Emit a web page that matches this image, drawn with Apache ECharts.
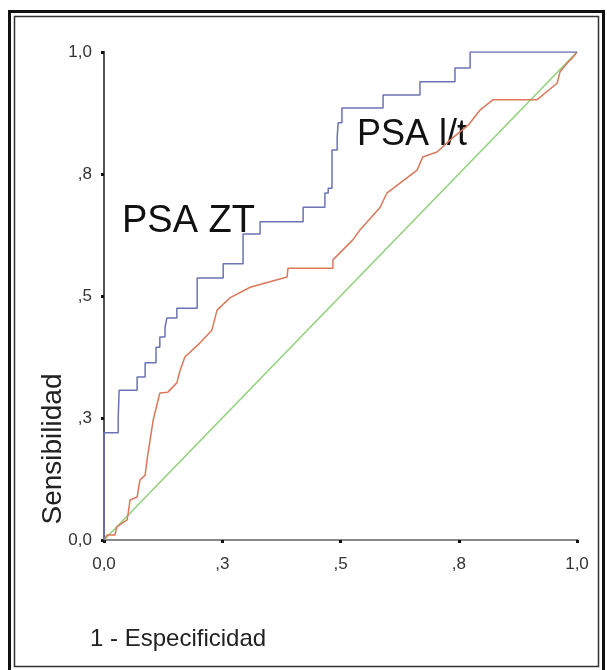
<!DOCTYPE html>
<html>
<head>
<meta charset="utf-8">
<script src="https://cdn.jsdelivr.net/npm/echarts@6/dist/echarts.min.js"></script>
<style>
  html, body { margin: 0; padding: 0; background: #fff; }
  #main { width: 607px; height: 670px; }
</style>
</head>
<body>
<div id="main"></div>
<script>
// tick values and the SPSS-style labels shown on both axes
const tickValues = [0, 0.25, 0.5, 0.75, 1];
const tickLabels = ['0,0', ',3', ',5', ',8', '1,0'];

// PSA ZT curve, [1 - especificidad, sensibilidad], drawn as stairs
const psaZT = [
  [0, 0], [0, 0.22], [0.03, 0.25], [0.032, 0.307], [0.07, 0.334], [0.087, 0.363],
  [0.11, 0.395], [0.118, 0.416], [0.129, 0.436], [0.133, 0.455], [0.154, 0.475],
  [0.197, 0.537], [0.252, 0.566], [0.294, 0.627], [0.33, 0.652], [0.421, 0.682],
  [0.467, 0.711], [0.474, 0.721], [0.482, 0.799], [0.493, 0.826], [0.495, 0.855],
  [0.503, 0.885], [0.59, 0.912], [0.668, 0.939], [0.742, 0.967], [0.774, 1.0], [1, 1]
];

// PSA l/t curve
const psaLT = [
  [0, 0], [0.006, 0.010], [0.023, 0.010], [0.027, 0.027], [0.049, 0.041], [0.055, 0.082],
  [0.070, 0.088], [0.076, 0.123], [0.087, 0.133], [0.091, 0.164], [0.104, 0.246],
  [0.118, 0.301], [0.135, 0.303], [0.154, 0.322], [0.161, 0.348], [0.171, 0.375],
  [0.203, 0.404], [0.228, 0.430], [0.239, 0.471], [0.266, 0.496], [0.309, 0.518],
  [0.387, 0.539], [0.389, 0.557], [0.484, 0.557], [0.484, 0.574], [0.526, 0.615],
  [0.541, 0.635], [0.584, 0.682], [0.598, 0.711], [0.662, 0.758], [0.674, 0.785],
  [0.704, 0.795], [0.732, 0.820], [0.770, 0.850], [0.795, 0.881], [0.822, 0.902],
  [0.915, 0.902], [0.958, 0.936], [0.964, 0.959], [0.979, 0.977], [0.992, 0.990], [1, 1]
];

// reference line
const diagonal = [[0, 0], [1, 1]];

const font = '"Liberation Sans", Arial, sans-serif';

function tickLabel(v) {
  const i = tickValues.findIndex(t => Math.abs(t - v) < 1e-6);
  return i >= 0 ? tickLabels[i] : '';
}

const chart = echarts.init(document.getElementById('main'));

const option = {
  animation: false,
  backgroundColor: '#fff',
  grid: { left: 104, right: 30, top: 52, bottom: 130 },
  xAxis: [{
    type: 'value', min: 0, max: 1, interval: 0.25,
    axisLine: { lineStyle: { color: '#222', width: 2 } },
    axisTick: { show: true, length: 3, lineStyle: { color: '#111', width: 3 } },
    axisLabel: { margin: 16, color: '#333', fontSize: 17, fontFamily: font, formatter: tickLabel },
    splitLine: { show: false }
  }, {
    type: 'value', min: 0, max: 1, position: 'top',
    axisLine: { show: true, lineStyle: { color: '#888', width: 2 } },
    axisTick: { show: false }, axisLabel: { show: false }, splitLine: { show: false }
  }],
  yAxis: [{
    type: 'value', min: 0, max: 1, interval: 0.25,
    axisLine: { show: true, lineStyle: { color: '#222', width: 2 } },
    axisTick: { show: true, length: 3, lineStyle: { color: '#111', width: 3 } },
    axisLabel: { margin: 12, color: '#333', fontSize: 17, fontFamily: font, formatter: tickLabel },
    splitLine: { show: false }
  }, {
    type: 'value', min: 0, max: 1, position: 'right',
    axisLine: { show: true, lineStyle: { color: '#555', width: 2 } },
    axisTick: { show: false }, axisLabel: { show: false }, splitLine: { show: false }
  }],
  series: [{
    name: 'Diagonal', type: 'line', data: diagonal, showSymbol: false,
    lineStyle: { color: '#8fd07a', width: 1.5 }
  }, {
    name: 'PSA l/t', type: 'line', data: psaLT, showSymbol: false,
    lineStyle: { color: '#d9785a', width: 1.5 }
  }, {
    name: 'PSA ZT', type: 'line', data: psaZT, step: 'end', showSymbol: false,
    lineStyle: { color: '#6b73b5', width: 1.5 }
  }],
  graphic: [
    { type: 'rect', shape: { x: 9.5, y: 11.5, width: 594, height: 660 },
      style: { fill: null, stroke: '#111', lineWidth: 3 }, silent: true },
    { type: 'rect', shape: { x: 14.5, y: 16.5, width: 584, height: 650 },
      style: { fill: null, stroke: '#333', lineWidth: 1.5 }, silent: true },
    { type: 'text', x: 122, y: 222, style: { text: 'PSA ZT', font: '38px ' + font, fill: '#111', verticalAlign: 'middle' } },
    { type: 'text', x: 357, y: 135, style: { text: 'PSA l/t', font: '36px ' + font, fill: '#111', verticalAlign: 'middle' } },
    { type: 'text', x: 90, y: 639, style: { text: '1 - Especificidad', font: '24px ' + font, fill: '#222', verticalAlign: 'middle' } },
    { type: 'text', x: 53, y: 449, rotation: Math.PI / 2,
      style: { text: 'Sensibilidad', font: '28px ' + font, fill: '#222', align: 'center', verticalAlign: 'middle' } }
  ]
};

chart.setOption(option);
</script>
</body>
</html>
